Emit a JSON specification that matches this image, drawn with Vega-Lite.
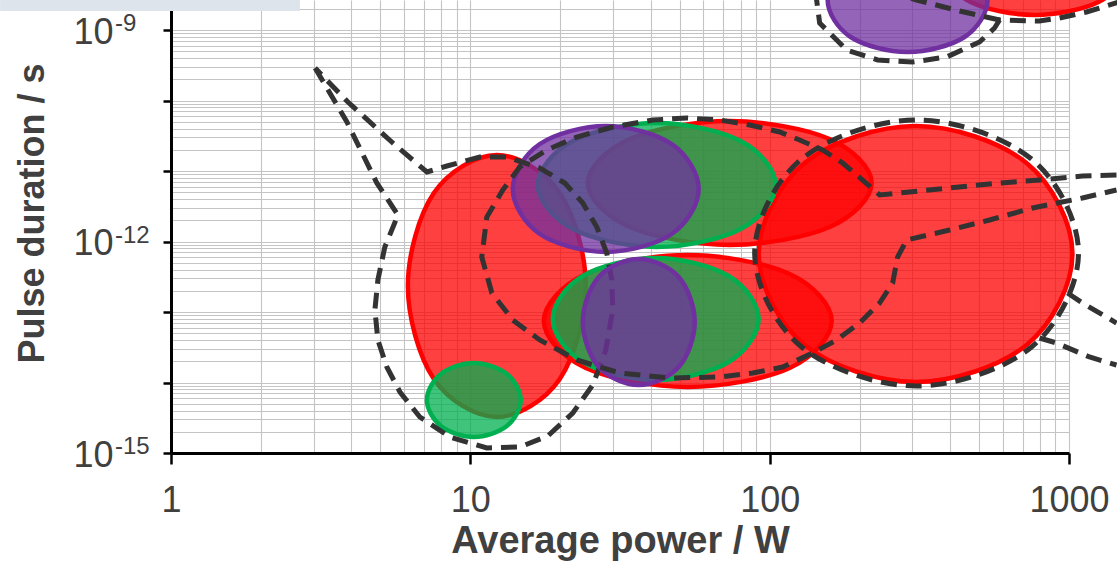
{
"$schema": "https://vega.github.io/schema/vega-lite/v6.json",
"width": 898, "height": 453,
"autosize": {"type": "none"},
"padding": {"left": 171, "top": 0, "right": 48, "bottom": 110},
"background": "white",
"config": {"view": {"stroke": null}},
"datasets": {
"band": [{"power": 0.2686, "power2": 2.696, "duration": 1.86e-9, "duration2": 3e-9}],
"exponents": [{"duration": 1e-9, "exp": "-9"}, {"duration": 1e-12, "exp": "-12"}, {"duration": 1e-15, "exp": "-15"}],
"shapes": [
{"shape":"E1","grp":"red","k":0,"power":24.3,"duration":2.338e-13},
{"shape":"E1","grp":"red","k":1,"power":19.9,"duration":4.874e-12},
{"shape":"E1","grp":"red","k":2,"power":12.26,"duration":1.687e-11},
{"shape":"E1","grp":"red","k":3,"power":7.553,"duration":4.874e-12},
{"shape":"E1","grp":"red","k":4,"power":6.185,"duration":2.338e-13},
{"shape":"E1","grp":"red","k":5,"power":7.553,"duration":1.121e-14},
{"shape":"E1","grp":"red","k":6,"power":12.26,"duration":3.24e-15},
{"shape":"E1","grp":"red","k":7,"power":19.9,"duration":1.121e-14},
{"shape":"E5","grp":"red","k":0,"power":219.1,"duration":6.758e-12},
{"shape":"E5","grp":"red","k":1,"power":158.6,"duration":2.844e-11},
{"shape":"E5","grp":"red","k":2,"power":73.52,"duration":5.119e-11},
{"shape":"E5","grp":"red","k":3,"power":34.09,"duration":2.844e-11},
{"shape":"E5","grp":"red","k":4,"power":24.68,"duration":6.758e-12},
{"shape":"E5","grp":"red","k":5,"power":34.09,"duration":1.606e-12},
{"shape":"E5","grp":"red","k":6,"power":73.52,"duration":8.921e-13},
{"shape":"E5","grp":"red","k":7,"power":158.6,"duration":1.606e-12},
{"shape":"E6","grp":"red","k":0,"power":161.1,"duration":7.452e-14},
{"shape":"E6","grp":"red","k":1,"power":116.6,"duration":3.46e-13},
{"shape":"E6","grp":"red","k":2,"power":53.24,"duration":6.435e-13},
{"shape":"E6","grp":"red","k":3,"power":24.3,"duration":3.46e-13},
{"shape":"E6","grp":"red","k":4,"power":17.6,"duration":7.452e-14},
{"shape":"E6","grp":"red","k":5,"power":24.3,"duration":1.606e-14},
{"shape":"E6","grp":"red","k":6,"power":53.24,"duration":8.634e-15},
{"shape":"E6","grp":"red","k":7,"power":116.6,"duration":1.606e-14},
{"shape":"E9","grp":"red","k":0,"power":1027,"duration":6.648e-13},
{"shape":"E9","grp":"red","k":1,"power":721.3,"duration":1.299e-11},
{"shape":"E9","grp":"red","k":2,"power":307.3,"duration":4.348e-11},
{"shape":"E9","grp":"red","k":3,"power":130.9,"duration":1.299e-11},
{"shape":"E9","grp":"red","k":4,"power":91.89,"duration":6.648e-13},
{"shape":"E9","grp":"red","k":5,"power":130.9,"duration":3.403e-14},
{"shape":"E9","grp":"red","k":6,"power":307.3,"duration":1.017e-14},
{"shape":"E9","grp":"red","k":7,"power":721.3,"duration":3.403e-14},
{"shape":"E11","grp":"red","k":0,"power":1532,"duration":7.097e-9},
{"shape":"E11","grp":"red","k":1,"power":1255,"duration":2.019e-8},
{"shape":"E11","grp":"red","k":2,"power":767,"duration":3.086e-8},
{"shape":"E11","grp":"red","k":3,"power":468.9,"duration":2.019e-8},
{"shape":"E11","grp":"red","k":4,"power":384,"duration":7.097e-9},
{"shape":"E11","grp":"red","k":5,"power":468.9,"duration":2.496e-9},
{"shape":"E11","grp":"red","k":6,"power":767,"duration":1.632e-9},
{"shape":"E11","grp":"red","k":7,"power":1255,"duration":2.496e-9},
{"shape":"E2","grp":"green","k":0,"power":14.74,"duration":5.647e-15},
{"shape":"E2","grp":"green","k":1,"power":13.24,"duration":1.32e-14},
{"shape":"E2","grp":"green","k":2,"power":10.27,"duration":1.891e-14},
{"shape":"E2","grp":"green","k":3,"power":7.971,"duration":1.32e-14},
{"shape":"E2","grp":"green","k":4,"power":7.158,"duration":5.647e-15},
{"shape":"E2","grp":"green","k":5,"power":7.971,"duration":2.415e-15},
{"shape":"E2","grp":"green","k":6,"power":10.27,"duration":1.687e-15},
{"shape":"E2","grp":"green","k":7,"power":13.24,"duration":2.415e-15},
{"shape":"E4","grp":"green","k":0,"power":104.7,"duration":6.33e-12},
{"shape":"E4","grp":"green","k":1,"power":80.02,"duration":2.664e-11},
{"shape":"E4","grp":"green","k":2,"power":41.95,"duration":4.796e-11},
{"shape":"E4","grp":"green","k":3,"power":21.99,"duration":2.664e-11},
{"shape":"E4","grp":"green","k":4,"power":16.8,"duration":6.33e-12},
{"shape":"E4","grp":"green","k":5,"power":21.99,"duration":1.504e-12},
{"shape":"E4","grp":"green","k":6,"power":41.95,"duration":8.356e-13},
{"shape":"E4","grp":"green","k":7,"power":80.02,"duration":1.504e-12},
{"shape":"E7","grp":"green","k":0,"power":91.89,"duration":7.956e-14},
{"shape":"E7","grp":"green","k":1,"power":72.97,"duration":3.24e-13},
{"shape":"E7","grp":"green","k":2,"power":41.63,"duration":5.834e-13},
{"shape":"E7","grp":"green","k":3,"power":23.75,"duration":3.24e-13},
{"shape":"E7","grp":"green","k":4,"power":18.86,"duration":7.956e-14},
{"shape":"E7","grp":"green","k":5,"power":23.75,"duration":1.953e-14},
{"shape":"E7","grp":"green","k":6,"power":41.63,"duration":1.085e-14},
{"shape":"E7","grp":"green","k":7,"power":72.97,"duration":1.953e-14},
{"shape":"E3","grp":"purple","k":0,"power":57.93,"duration":5.555e-12},
{"shape":"E3","grp":"purple","k":1,"power":47.08,"duration":2.415e-11},
{"shape":"E3","grp":"purple","k":2,"power":28.34,"duration":4.348e-11},
{"shape":"E3","grp":"purple","k":3,"power":17.06,"duration":2.415e-11},
{"shape":"E3","grp":"purple","k":4,"power":13.86,"duration":5.555e-12},
{"shape":"E3","grp":"purple","k":5,"power":17.06,"duration":1.278e-12},
{"shape":"E3","grp":"purple","k":6,"power":28.34,"duration":7.097e-13},
{"shape":"E3","grp":"purple","k":7,"power":47.08,"duration":1.278e-12},
{"shape":"E10","grp":"purple","k":0,"power":534.4,"duration":2.664e-9},
{"shape":"E10","grp":"purple","k":1,"power":447.8,"duration":8.921e-9},
{"shape":"E10","grp":"purple","k":2,"power":288.9,"duration":1.456e-8},
{"shape":"E10","grp":"purple","k":3,"power":186.4,"duration":8.921e-9},
{"shape":"E10","grp":"purple","k":4,"power":156.2,"duration":2.664e-9},
{"shape":"E10","grp":"purple","k":5,"power":186.4,"duration":7.956e-10},
{"shape":"E10","grp":"purple","k":6,"power":288.9,"duration":4.874e-10},
{"shape":"E10","grp":"purple","k":7,"power":447.8,"duration":7.956e-10},
{"shape":"E8","grp":"purple2","k":0,"power":56.19,"duration":7.215e-14},
{"shape":"E8","grp":"purple2","k":1,"power":49.68,"duration":3.137e-13},
{"shape":"E8","grp":"purple2","k":2,"power":36.53,"duration":5.647e-13},
{"shape":"E8","grp":"purple2","k":3,"power":26.86,"duration":3.137e-13},
{"shape":"E8","grp":"purple2","k":4,"power":23.75,"duration":7.215e-14},
{"shape":"E8","grp":"purple2","k":5,"power":26.86,"duration":1.659e-14},
{"shape":"E8","grp":"purple2","k":6,"power":36.53,"duration":9.215e-15},
{"shape":"E8","grp":"purple2","k":7,"power":49.68,"duration":1.659e-14},
{"shape":"D3","grp":"outline","k":0,"power":1076,"duration":6.869e-13},
{"shape":"D3","grp":"outline","k":1,"power":749.5,"duration":1.48e-11},
{"shape":"D3","grp":"outline","k":2,"power":309.6,"duration":5.29e-11},
{"shape":"D3","grp":"outline","k":3,"power":127.9,"duration":1.48e-11},
{"shape":"D3","grp":"outline","k":4,"power":89.11,"duration":6.869e-13},
{"shape":"D3","grp":"outline","k":5,"power":127.9,"duration":3.188e-14},
{"shape":"D3","grp":"outline","k":6,"power":309.6,"duration":8.921e-15},
{"shape":"D3","grp":"outline","k":7,"power":749.5,"duration":3.188e-14}
],
"dashes": [
{"shape":"D1","k":1,"power":3.03,"duration":2.891e-10},
{"shape":"D1","k":2,"power":3.87,"duration":4.955e-11},
{"shape":"D1","k":3,"power":4.87,"duration":6.758e-12},
{"shape":"D1","k":4,"power":5.73,"duration":2.376e-12},
{"shape":"D1","k":5,"power":5.18,"duration":8.356e-13},
{"shape":"D1","k":6,"power":4.91,"duration":2.844e-13},
{"shape":"D1","k":7,"power":4.8,"duration":1.068e-13},
{"shape":"D1","k":8,"power":4.91,"duration":4.007e-14},
{"shape":"D1","k":9,"power":5.26,"duration":1.659e-14},
{"shape":"D1","k":10,"power":5.82,"duration":7.331e-15},
{"shape":"D1","k":11,"power":6.78,"duration":3.24e-15},
{"shape":"D1","k":12,"power":8.54,"duration":1.687e-15},
{"shape":"D1","k":13,"power":11.35,"duration":1.177e-15},
{"shape":"D1","k":14,"power":14.63,"duration":1.217e-15},
{"shape":"D1","k":15,"power":18.15,"duration":1.742e-15},
{"shape":"D1","k":16,"power":21.99,"duration":3.693e-15},
{"shape":"D1","k":17,"power":25.65,"duration":9.215e-15},
{"shape":"D1","k":18,"power":28.34,"duration":2.891e-14},
{"shape":"D1","k":19,"power":29.91,"duration":1.068e-13},
{"shape":"D1","k":20,"power":29.68,"duration":2.844e-13},
{"shape":"D1","k":21,"power":28.56,"duration":6.869e-13},
{"shape":"D1","k":22,"power":26.45,"duration":1.606e-12},
{"shape":"D1","k":23,"power":23.75,"duration":3.516e-12},
{"shape":"D1","k":24,"power":20.68,"duration":6.758e-12},
{"shape":"D1","k":25,"power":17.06,"duration":1.103e-11},
{"shape":"D1","k":26,"power":13.24,"duration":1.58e-11},
{"shape":"D1","k":27,"power":10.76,"duration":1.58e-11},
{"shape":"D1","k":28,"power":8.35,"duration":1.177e-11},
{"shape":"D1","k":29,"power":7.16,"duration":9.678e-12},
{"shape":"D1","k":30,"power":5.51,"duration":2.496e-11},
{"shape":"D1","k":31,"power":3.9,"duration":9.521e-11},
{"shape":"D1","k":32,"power":3.03,"duration":2.891e-10},
{"shape":"D2","k":1,"power":1441,"duration":8.776e-12},
{"shape":"D2","k":2,"power":1109,"duration":8.494e-12},
{"shape":"D2","k":3,"power":797.1,"duration":7.452e-12},
{"shape":"D2","k":4,"power":586,"duration":6.758e-12},
{"shape":"D2","k":5,"power":399,"duration":5.74e-12},
{"shape":"D2","k":6,"power":233,"duration":4.567e-12},
{"shape":"D2","k":7,"power":204.4,"duration":7.452e-12},
{"shape":"D2","k":8,"power":175.3,"duration":1.299e-11},
{"shape":"D2","k":9,"power":150.3,"duration":1.986e-11},
{"shape":"D2","k":10,"power":125.9,"duration":2.752e-11},
{"shape":"D2","k":11,"power":108,"duration":3.574e-11},
{"shape":"D2","k":12,"power":85.74,"duration":4.493e-11},
{"shape":"D2","k":13,"power":68.09,"duration":5.29e-11},
{"shape":"D2","k":14,"power":52.83,"duration":5.647e-11},
{"shape":"D2","k":15,"power":40.68,"duration":5.29e-11},
{"shape":"D2","k":16,"power":29.91,"duration":4.208e-11},
{"shape":"D2","k":17,"power":22.68,"duration":3.036e-11},
{"shape":"D2","k":18,"power":18.01,"duration":1.986e-11},
{"shape":"D2","k":19,"power":14.63,"duration":1.14e-11},
{"shape":"D2","k":20,"power":12.84,"duration":5.377e-12},
{"shape":"D2","k":21,"power":11.35,"duration":2.226e-12},
{"shape":"D2","k":22,"power":10.92,"duration":6.027e-13},
{"shape":"D2","k":23,"power":11.8,"duration":1.86e-13},
{"shape":"D2","k":24,"power":13.86,"duration":7.7e-14},
{"shape":"D2","k":25,"power":17.06,"duration":4.007e-14},
{"shape":"D2","k":26,"power":22.68,"duration":2.085e-14},
{"shape":"D2","k":27,"power":31.56,"duration":1.364e-14},
{"shape":"D2","k":28,"power":46.35,"duration":1.158e-14},
{"shape":"D2","k":29,"power":68.09,"duration":1.197e-14},
{"shape":"D2","k":30,"power":87.74,"duration":1.364e-14},
{"shape":"D2","k":31,"power":110.5,"duration":1.659e-14},
{"shape":"D2","k":32,"power":139.2,"duration":2.621e-14},
{"shape":"D2","k":33,"power":167.4,"duration":4.007e-14},
{"shape":"D2","k":34,"power":199.8,"duration":6.983e-14},
{"shape":"D2","k":35,"power":233,"duration":1.342e-13},
{"shape":"D2","k":36,"power":257.5,"duration":2.578e-13},
{"shape":"D2","k":37,"power":267.6,"duration":6.027e-13},
{"shape":"D2","k":38,"power":286.7,"duration":1.05e-12},
{"shape":"D2","k":39,"power":399,"duration":1.456e-12},
{"shape":"D2","k":40,"power":542.8,"duration":2.019e-12},
{"shape":"D2","k":41,"power":755.3,"duration":2.987e-12},
{"shape":"D2","k":42,"power":1109,"duration":4.14e-12},
{"shape":"D2","k":43,"power":1441,"duration":5.377e-12},
{"shape":"D4a","k":1,"power":141.4,"duration":3.693e-9},
{"shape":"D4a","k":2,"power":143.5,"duration":2.664e-9},
{"shape":"D4a","k":3,"power":146.9,"duration":1.257e-9},
{"shape":"D4a","k":4,"power":180.8,"duration":5.204e-10},
{"shape":"D4a","k":5,"power":229.4,"duration":3.754e-10},
{"shape":"D4a","k":6,"power":300.3,"duration":3.516e-10},
{"shape":"D4a","k":7,"power":390,"duration":4.14e-10},
{"shape":"D4a","k":8,"power":502.6,"duration":6.758e-10},
{"shape":"D4a","k":9,"power":564,"duration":1.068e-9},
{"shape":"D4a","k":10,"power":586,"duration":1.386e-9},
{"shape":"D4a","k":11,"power":797.1,"duration":1.342e-9},
{"shape":"D4a","k":12,"power":929.6,"duration":1.48e-9},
{"shape":"D4a","k":13,"power":1144,"duration":1.8e-9},
{"shape":"D4a","k":14,"power":1474,"duration":2.496e-9},
{"shape":"D4b","k":1,"power":586,"duration":1.386e-9},
{"shape":"D4b","k":2,"power":430.9,"duration":1.86e-9},
{"shape":"D4b","k":3,"power":309.6,"duration":2.664e-9},
{"shape":"D4b","k":4,"power":251.6,"duration":3.46e-9},
{"shape":"D5a","k":1,"power":988.6,"duration":1.86e-13},
{"shape":"D5a","k":2,"power":1109,"duration":1.342e-13},
{"shape":"D5a","k":3,"power":1441,"duration":6.983e-14},
{"shape":"D5b","k":1,"power":797.1,"duration":4.278e-14},
{"shape":"D5b","k":2,"power":908.5,"duration":3.633e-14},
{"shape":"D5b","k":3,"power":1171,"duration":2.3e-14},
{"shape":"D5b","k":4,"power":1441,"duration":1.771e-14}
]
},
"encoding": {
"y": {"field": "duration", "type": "quantitative",
 "scale": {"type": "log", "domain": [1e-15, 2.664e-9], "nice": false},
 "axis": {
  "values": [1e-15,2e-15,3e-15,4e-15,5e-15,6e-15,7e-15,8e-15,9e-15,1e-14,2e-14,3e-14,4e-14,5e-14,6e-14,7e-14,8e-14,9e-14,1e-13,2e-13,3e-13,4e-13,5e-13,6e-13,7e-13,8e-13,9e-13,1e-12,2e-12,3e-12,4e-12,5e-12,6e-12,7e-12,8e-12,9e-12,1e-11,2e-11,3e-11,4e-11,5e-11,6e-11,7e-11,8e-11,9e-11,1e-10,2e-10,3e-10,4e-10,5e-10,6e-10,7e-10,8e-10,9e-10,1e-9,2e-9],
  "title": "Pulse duration / s",
  "grid": true, "gridColor": "#c4c4c4", "gridWidth": 1.1,
  "domainColor": "#000000", "domainWidth": 3,
  "tickColor": "#000000", "tickWidth": 2.5, "tickSize": 8,
  "tickOpacity": {"condition": {"test": "abs(log(datum.value)/LN10 - round(log(datum.value)/LN10)) < 0.01", "value": 1}, "value": 0},
  "labelExpr": "(abs(log(datum.value)/LN10 + 9) < 0.01 || abs(log(datum.value)/LN10 + 12) < 0.01 || abs(log(datum.value)/LN10 + 15) < 0.01) ? '10' : ''",
  "labelFont": "Liberation Sans", "labelFontSize": 36, "labelColor": "#404040", "labelPadding": 90,
  "labelAlign": "left", "labelBaseline": "middle", "labelOffset": 2,
  "labelOverlap": false, "labelFlush": false,
  "titleFont": "Liberation Sans", "titleFontSize": 36, "titleFontWeight": "bold", "titleColor": "#404040", "titlePadding": 22, "titleY": 213
 }}
},
"layer": [
{"data": {"name": "band"}, "mark": {"type": "rect", "color": "#dde4eb"},
 "encoding": {
  "x": {"field": "power", "type": "quantitative",
   "scale": {"type": "log", "domain": [1, 1000], "nice": false},
   "axis": {
    "values": [1,2,3,4,5,6,7,8,9,10,20,30,40,50,60,70,80,90,100,200,300,400,500,600,700,800,900,1000],
    "title": "Average power / W",
    "grid": true, "gridColor": "#c4c4c4", "gridWidth": 1.1,
    "domainColor": "#000000", "domainWidth": 3,
    "tickColor": "#000000", "tickWidth": 2.5, "tickSize": 11,
    "tickOpacity": {"condition": {"test": "abs(log(datum.value)/LN10 - round(log(datum.value)/LN10)) < 0.01", "value": 1}, "value": 0},
    "labelExpr": "abs(log(datum.value)/LN10 - round(log(datum.value)/LN10)) < 0.01 ? format(datum.value, 'd') : ''",
    "labelFont": "Liberation Sans", "labelFontSize": 36, "labelColor": "#404040", "labelPadding": 19,
    "labelOverlap": false, "labelFlush": false,
    "titleFont": "Liberation Sans", "titleFontSize": 38, "titleFontWeight": "bold", "titleColor": "#404040", "titlePadding": 4
   }},
  "x2": {"field": "power2"}, "y2": {"field": "duration2"}}},
{"data": {"name": "exponents"},
 "mark": {"type": "text", "align": "left", "baseline": "alphabetic", "font": "Liberation Sans", "fontSize": 24, "color": "#404040", "dy": 1},
 "encoding": {"x": {"datum": 0.65, "type": "quantitative", "scale": {"type": "log", "domain": [1, 1000], "nice": false}}, "text": {"field": "exp"}}},
{"data": {"name": "shapes"}, "transform": [{"filter": "datum.grp === 'red'"}],
 "mark": {"type": "line", "interpolate": "cardinal-closed", "fill": "#FF0000", "fillOpacity": 0.75, "stroke": "#FF0000", "strokeWidth": 4.5},
 "encoding": {"x": {"field": "power", "type": "quantitative", "scale": {"type": "log", "domain": [1, 1000], "nice": false}}, "detail": {"field": "shape"}, "order": {"field": "k"}}},
{"data": {"name": "shapes"}, "transform": [{"filter": "datum.grp === 'green'"}],
 "mark": {"type": "line", "interpolate": "cardinal-closed", "fill": "#00B050", "fillOpacity": 0.75, "stroke": "#00B050", "strokeWidth": 4.5},
 "encoding": {"x": {"field": "power", "type": "quantitative", "scale": {"type": "log", "domain": [1, 1000], "nice": false}}, "detail": {"field": "shape"}, "order": {"field": "k"}}},
{"data": {"name": "shapes"}, "transform": [{"filter": "datum.grp === 'purple'"}],
 "mark": {"type": "line", "interpolate": "cardinal-closed", "fill": "#7030A0", "fillOpacity": 0.75, "stroke": "#7030A0", "strokeWidth": 4.5},
 "encoding": {"x": {"field": "power", "type": "quantitative", "scale": {"type": "log", "domain": [1, 1000], "nice": false}}, "detail": {"field": "shape"}, "order": {"field": "k"}}},
{"data": {"name": "dashes"}, "transform": [{"filter": "datum.shape === 'D1'"}],
 "mark": {"type": "line", "interpolate": "linear", "stroke": "#333333", "strokeWidth": 5, "strokeDash": [16, 9]},
 "encoding": {"x": {"field": "power", "type": "quantitative", "scale": {"type": "log", "domain": [1, 1000], "nice": false}}, "detail": {"field": "shape"}, "order": {"field": "k"}}},
{"data": {"name": "shapes"}, "transform": [{"filter": "datum.grp === 'purple2'"}],
 "mark": {"type": "line", "interpolate": "cardinal-closed", "fill": "#7030A0", "fillOpacity": 0.75, "stroke": "#7030A0", "strokeWidth": 4.5},
 "encoding": {"x": {"field": "power", "type": "quantitative", "scale": {"type": "log", "domain": [1, 1000], "nice": false}}, "detail": {"field": "shape"}, "order": {"field": "k"}}},
{"data": {"name": "shapes"}, "transform": [{"filter": "datum.grp === 'outline'"}],
 "mark": {"type": "line", "interpolate": "cardinal-closed", "stroke": "#333333", "strokeWidth": 5, "strokeDash": [16, 9]},
 "encoding": {"x": {"field": "power", "type": "quantitative", "scale": {"type": "log", "domain": [1, 1000], "nice": false}}, "detail": {"field": "shape"}, "order": {"field": "k"}}},
{"data": {"name": "dashes"}, "transform": [{"filter": "datum.shape !== 'D1'"}],
 "mark": {"type": "line", "interpolate": "linear", "stroke": "#333333", "strokeWidth": 5, "strokeDash": [16, 9]},
 "encoding": {"x": {"field": "power", "type": "quantitative", "scale": {"type": "log", "domain": [1, 1000], "nice": false}}, "detail": {"field": "shape"}, "order": {"field": "k"}}}
]
}
